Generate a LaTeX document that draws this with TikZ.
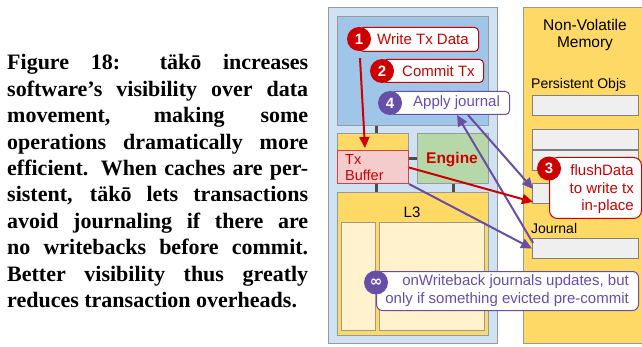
\documentclass[tikz,border=0pt]{standalone}
\usepackage{fontspec}
\setmainfont{Liberation Serif}
\setsansfont{Liberation Sans}
\newfontfamily\dejavu{DejaVu Sans}
\usetikzlibrary{arrows.meta,calc}
\definecolor{outerblue}{HTML}{CFE2F3}
\definecolor{coreblue}{HTML}{9FC5E8}
\definecolor{ylw}{HTML}{FFD966}
\definecolor{lylw}{HTML}{FFF2CC}
\definecolor{pnk}{HTML}{F4CCCC}
\definecolor{grn}{HTML}{B6D7A8}
\definecolor{lgray}{HTML}{EFEFEF}
\definecolor{dred}{HTML}{CC0000}
\definecolor{purp}{HTML}{674EA7}
\definecolor{bordergray}{HTML}{999999}
\definecolor{connc}{HTML}{4D4D4D}
\begin{document}
\begin{tikzpicture}[x=1pt,y=-1pt,
  box/.style={draw=bordergray, line width=1pt, inner sep=0pt, anchor=north west},
  graybox/.style={box, fill=lgray, draw=gray, minimum width=106pt, minimum height=20pt},
  connline/.style={draw=connc, line width=3pt},
  redarr/.style={draw=dred, line width=2pt, -{Triangle[length=11pt,width=10pt]}},
  purparr/.style={draw=purp, line width=2pt, -{Triangle[length=11pt,width=10pt]}},
  calloutR/.style={draw=dred, fill=white, line width=1pt, rounded corners=4pt, inner sep=0pt, anchor=north west},
  calloutP/.style={draw=purp, fill=white, line width=1pt, rounded corners=4pt, inner sep=0pt, anchor=north west},
  numR/.style={circle, fill=dred, minimum size=24pt, inner sep=0pt, text=white, font=\sffamily\bfseries\fontsize{15}{18}\selectfont},
  numP/.style={numR, fill=purp},
  lab/.style={inner sep=0pt, font=\sffamily\fontsize{15}{18}\selectfont},
  capline/.style={inner sep=0pt, anchor=base west, font=\bfseries\fontsize{22}{26}\selectfont}
]
\useasboundingbox (0,0) rectangle (642,347);
\fill[white] (0,0) rectangle (642,347);

% caption
\node[capline] (cap1) at (7,70.0) {\makebox[301pt][s]{Figure 18: täkō increases}};
\node[capline] (cap2) at (7,96.4) {\makebox[301pt][s]{software’s visibility over data}};
\node[capline] (cap3) at (7,122.8) {\makebox[301pt][s]{movement, making some}};
\node[capline] (cap4) at (7,149.2) {\makebox[301pt][s]{operations dramatically more}};
\node[capline] (cap5) at (7,175.6) {\makebox[301pt][s]{efficient. When caches are per-}};
\node[capline] (cap6) at (7,202.0) {\makebox[301pt][s]{sistent, täkō lets transactions}};
\node[capline] (cap7) at (7,228.4) {\makebox[301pt][s]{avoid journaling if there are}};
\node[capline] (cap8) at (7,254.8) {\makebox[301pt][s]{no writebacks before commit.}};
\node[capline] (cap9) at (7,281.2) {\makebox[301pt][s]{Better visibility thus greatly}};
\node[capline] (cap10) at (7,307.6) {reduces transaction overheads.};

% left: CPU side
\node[box, fill=outerblue, minimum width=169pt, minimum height=336pt] (outer) at (328,7) {};
\node[box, fill=coreblue, minimum width=151pt, minimum height=109pt] (core) at (337,16) {};
\draw[connline] ([xshift=39pt]core.south west) -- ([xshift=39pt,yshift=-8pt]core.south west);
\node[box, fill=ylw, minimum width=71pt, minimum height=50pt] (l2) at (337,133) {};
\node[box, fill=grn, minimum width=71pt, minimum height=50pt] (engine) at (417,133) {};
\draw[connline] (l2.east) -- (engine.west);
\node[box, fill=pnk, draw=dred!75, minimum width=71pt, minimum height=33pt] (txbuf) at (337,150) {};
\node[box, fill=ylw, minimum width=151pt, minimum height=143pt] (l3) at (337,192) {};
\draw[connline] ([xshift=39pt]txbuf.south west) -- ([xshift=39pt]l3.north west);
\draw[connline] ([xshift=36pt]engine.south west) -- ([xshift=116pt]l3.north west);
\node[box, fill=lylw, minimum width=34pt, minimum height=108pt] (l3a) at (341,222) {};
\node[box, fill=lylw, minimum width=105pt, minimum height=108pt] (l3b) at (379,222) {};
\node[lab, text=dred, align=left, anchor=west, font=\sffamily\fontsize{14.5}{16}\selectfont] (txlab) at (345,168) {Tx\\Buffer};
\node[lab, text=dred, font=\sffamily\bfseries\fontsize{15.5}{18}\selectfont] (englab) at (452,160) {Engine};
\node[lab] (l3lab) at (412,212) {L3};

% right: NVM
\node[box, fill=ylw, minimum width=121pt, minimum height=336pt] (nvm) at (523,7) {};
\node[lab, align=center, font=\sffamily\fontsize{15.5}{17.5}\selectfont] (nvmlab) at (585,35) {Non-Volatile\\Memory};
\node[lab, anchor=west, font=\sffamily\fontsize{14}{17}\selectfont] (pobj) at (531,85) {Persistent Objs};
\node[graybox] (g1) at (532,95) {};
\node[graybox] (g2) at (532,129) {};
\node[graybox] (g3) at (532,150) {};
\node[graybox] (g4) at (532,183) {};
\node[lab, anchor=west, font=\sffamily\fontsize{14}{17}\selectfont] (jlab) at (531,228) {Journal};
\node[graybox] (gj) at (532,238) {};

% arrows
\draw[purparr] (txbuf.south east) -- (gj.west);
\draw[purparr] ($(gj.north west)+(1,5)$) -- ($(core.south west)+(120,-11)$);
\draw[purparr] ($(core.south west)+(131,-11)$) -- ($(g4.north west)+(1,6)$);
\draw[redarr] ($(txbuf.east)+(0,0.5)$) -- ($(g4.south west)+(1,-2)$);

% callouts
\node[calloutR, minimum width=119pt, minimum height=24pt] (r1) at (359,27) {};
\node[numR] (c1) at (359,39) {1};
\node[lab, text=dred, anchor=west] (t1) at (377,39.5) {Write Tx Data};
\draw[redarr] ($(c1.south)+(1,7)$) -- ($(txbuf.north west)+(28,-2)$);

\node[calloutR, minimum width=101pt, minimum height=23pt] (r2) at (382,59) {};
\node[numR] (c2) at (382,71) {2};
\node[lab, text=dred, anchor=west] (t2) at (402,71) {Commit Tx};

\node[calloutP, minimum width=119pt, minimum height=23pt] (r4) at (390,91) {};
\node[numP] (c4) at (390,103) {4};
\node[lab, text=purp, anchor=west] (t4) at (413,103) {Apply journal};

\node[calloutR, rounded corners=8pt, minimum width=92pt, minimum height=61pt] (r3) at (549,157) {};
\node[numR] (c3) at (549,168.5) {3};
\node[lab, text=dred, align=right, anchor=east, font=\sffamily\fontsize{15}{17.5}\selectfont] (t3) at (634,189.5) {flushData\\to write tx\\in-place};

\node[calloutP, rounded corners=6pt, minimum width=262pt, minimum height=39pt] (rinf) at (376,271) {};
\node[numP, font=\dejavu\bfseries\fontsize{15}{18}\selectfont] (cinf) at (376,282.5) {∞};
\node[lab, text=purp, align=right, anchor=east] (tinf) at (629,291) {onWriteback journals updates, but\\only if something evicted pre-commit};
\end{tikzpicture}
\end{document}
